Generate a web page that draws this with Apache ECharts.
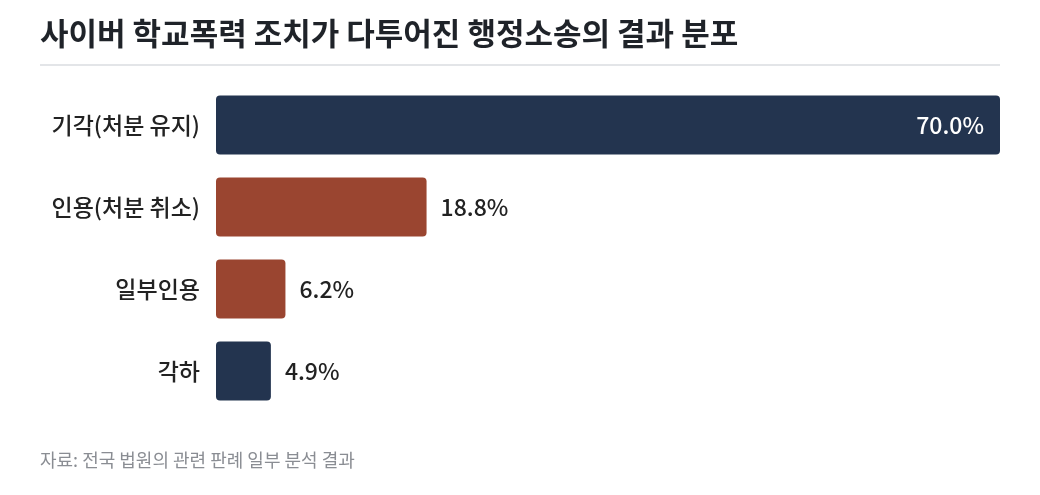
<!DOCTYPE html>
<html>
<head>
<meta charset="utf-8">
<script src="https://cdn.jsdelivr.net/npm/echarts@6/dist/echarts.min.js"></script>
<style>
  html, body { margin: 0; padding: 0; background: #fff; }
  #chart { width: 1040px; height: 495px; }
</style>
</head>
<body>
<div id="chart"></div>
<script>
// data
const categories = ['기각(처분 유지)', '인용(처분 취소)', '일부인용', '각하'];
const shares = [70.0, 18.8, 6.2, 4.9];
const barColors = ['#23344f', '#9a4530', '#9a4530', '#23344f'];

const FONT = '"Noto Sans CJK KR", "Noto Sans", sans-serif';

const chart = echarts.init(document.getElementById('chart'));

chart.setOption({
  animation: false,
  textStyle: { fontFamily: FONT },
  title: {
    text: '사이버 학교폭력 조치가 다투어진 행정소송의 결과 분포',
    left: 40,
    top: 18,
    padding: 0,
    textStyle: { fontSize: 31, fontWeight: 'bold', color: '#1f2329', fontFamily: FONT }
  },
  graphic: [
    {
      type: 'rect',
      shape: { x: 40, y: 64, width: 960, height: 2 },
      style: { fill: '#e3e5e8' }
    },
    {
      type: 'text',
      left: 40,
      top: 451,
      style: { text: '자료: 전국 법원의 관련 판례 일부 분석 결과', fill: '#8a8d93', fontSize: 18, fontFamily: FONT }
    }
  ],
  grid: { left: 216, right: 40, top: 84, bottom: 83, containLabel: false },
  xAxis: {
    type: 'value',
    min: 0,
    max: 70,
    show: false
  },
  yAxis: {
    type: 'category',
    inverse: true,
    data: categories,
    axisLine: { show: false },
    axisTick: { show: false },
    axisLabel: { color: '#222', fontSize: 23, fontWeight: 500, margin: 16, fontFamily: FONT }
  },
  series: [{
    type: 'bar',
    barWidth: 59,
    data: shares.map((v, i) => ({
      value: v,
      itemStyle: { color: barColors[i], borderRadius: 4 },
      label: i === 0
        ? { position: 'insideRight', color: '#fff', distance: 16 }
        : { position: 'right', color: '#222', distance: 14 }
    })),
    label: {
      show: true,
      fontSize: 23,
      fontWeight: 500,
      fontFamily: FONT,
      formatter: p => p.value.toFixed(1) + '%'
    }
  }]
});
</script>
</body>
</html>
